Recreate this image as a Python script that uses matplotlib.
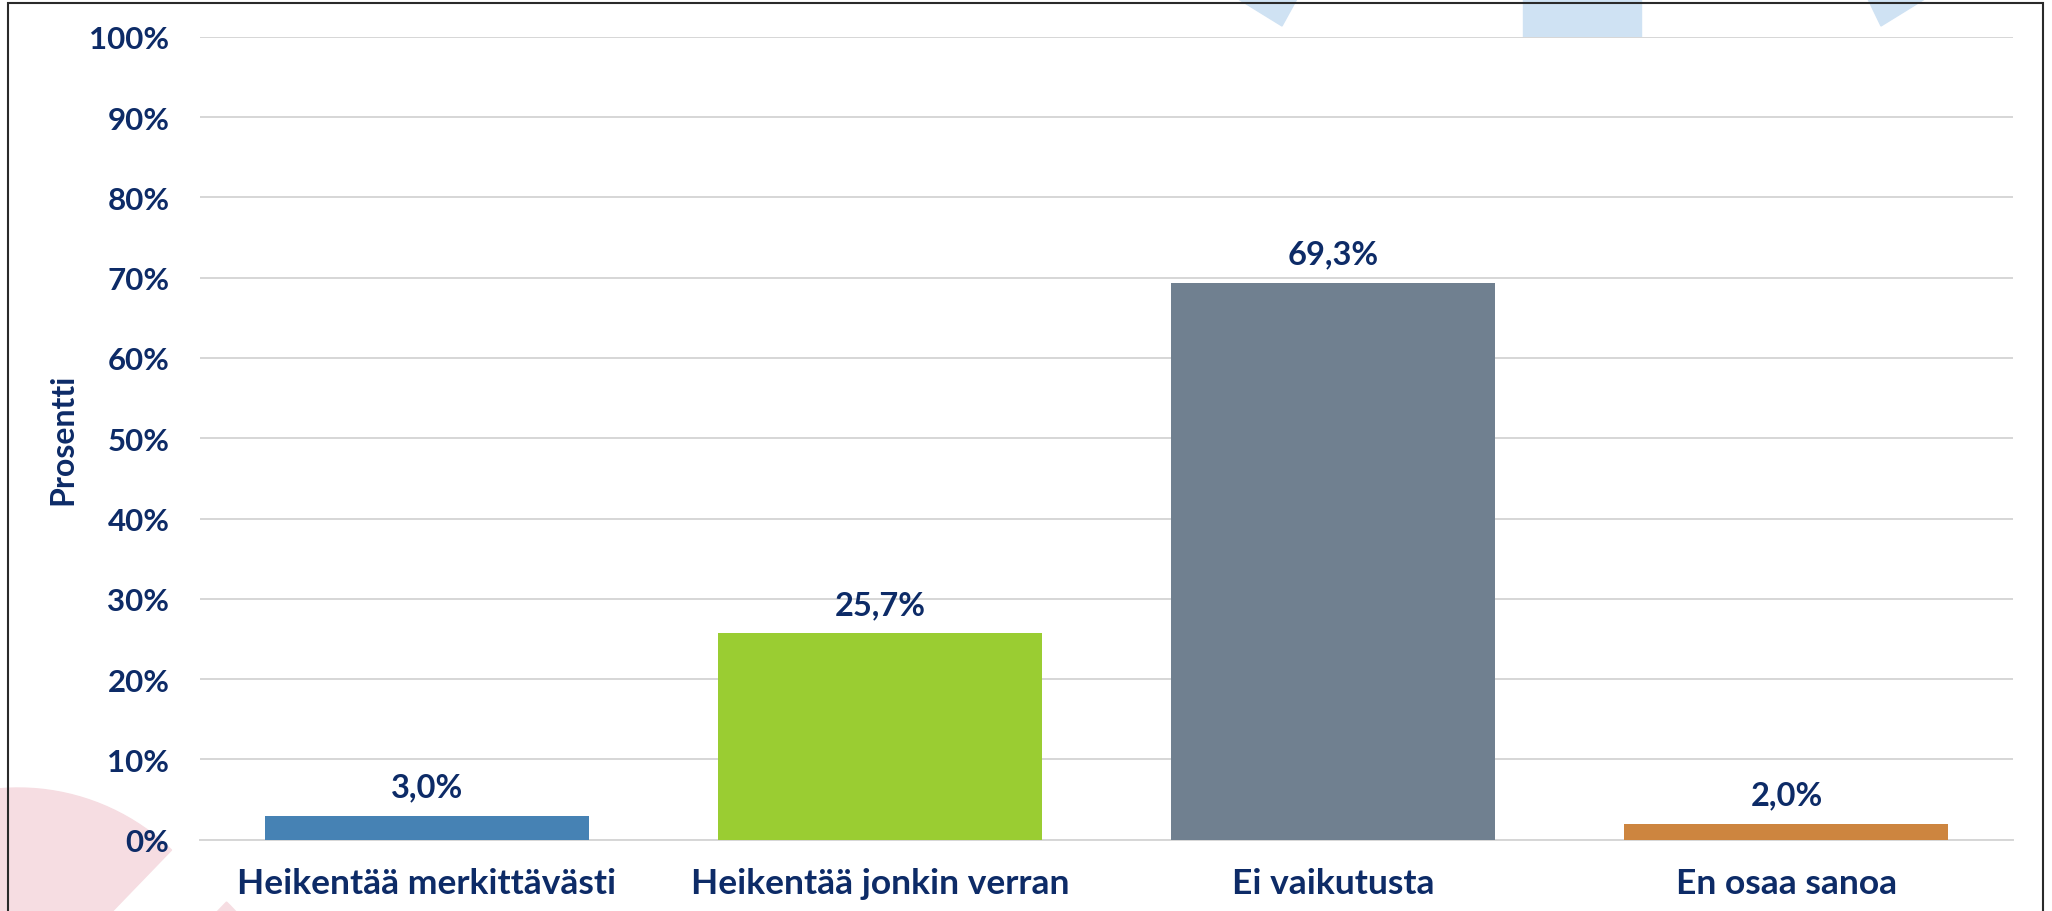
import matplotlib
matplotlib.use("Agg")
import matplotlib.pyplot as plt
from matplotlib.patches import Wedge, Polygon, Rectangle
from matplotlib.transforms import IdentityTransform

# ---- data ----
categories = ["Heikentää merkittävästi", "Heikentää jonkin verran", "Ei vaikutusta", "En osaa sanoa"]
values = [3.0, 25.7, 69.3, 2.0]
value_labels = ["3,0%", "25,7%", "69,3%", "2,0%"]
bar_colors = ["#4682B4", "#9ACD32", "#708090", "#CD853F"]
yticks = [0, 10, 20, 30, 40, 50, 60, 70, 80, 90, 100]
ytick_labels = ["0%", "10%", "20%", "30%", "40%", "50%", "60%", "70%", "80%", "90%", "100%"]
ylabel = "Prosentti"

W, H = 2052, 912
NAVY = "#0D2B67"
FONT = ["Lato", "DejaVu Sans"]

fig = plt.figure(figsize=(W / 100, H / 100), dpi=100)
fig.patch.set_facecolor("white")

# ---- background decorations (pixel coordinates, origin bottom-left) ----
ident = IdentityTransform()
pink = "#F6DDE2"
blue = "#CFE2F3"
fig.patches.append(Wedge((18, H - 1010), 221, 46, 200, transform=ident, color=pink, zorder=-2))
fig.patches.append(Wedge((73, H - 1062), 221, -30, 46, transform=ident, color=pink, zorder=-2))
fig.patches.append(Polygon([(1235, H + 2), (1298, H + 2), (1282, H - 27)], closed=True,
                           transform=ident, color=blue, zorder=-2))
fig.patches.append(Polygon([(1867, H + 2), (1928, H + 2), (1881, H - 27)], closed=True,
                           transform=ident, color=blue, zorder=-2))
fig.patches.append(Rectangle((1523, H - 40), 118, 44, transform=ident, color=blue, zorder=-2))
fig.patches.append(Rectangle((8, -20), 2035, H - 4 + 20, transform=ident, fill=False,
                             edgecolor="#2A2A2A", linewidth=1.5, zorder=10))

# ---- axes ----
ax_left, ax_right = 200 / W, 2013 / W
ax_bottom, ax_top = (H - 840.7) / H, (H - 37.7) / H
ax = fig.add_axes([ax_left, ax_bottom, ax_right - ax_left, ax_top - ax_bottom])
ax.set_facecolor("white")

x = list(range(len(categories)))
bars = ax.bar(x, values, width=0.715, color=bar_colors, zorder=3)

for xi, v, lab in zip(x, values, value_labels):
    ax.annotate(lab, (xi, v), xytext=(0, 14), textcoords="offset points",
                ha="center", va="baseline", fontsize=23.5, fontweight="bold",
                color=NAVY, family=FONT)

ax.set_xlim(-0.5, len(categories) - 0.5)
ax.set_ylim(0, 100)
ax.set_yticks(yticks)
ax.set_yticklabels(ytick_labels)
ax.set_xticks(x)
ax.set_xticklabels(categories)

for lab in ax.get_yticklabels():
    lab.set_fontsize(22.5)
    lab.set_fontweight("bold")
    lab.set_color(NAVY)
    lab.set_family(FONT)
for lab in ax.get_xticklabels():
    lab.set_fontsize(25.5)
    lab.set_fontweight("bold")
    lab.set_color(NAVY)
    lab.set_family(FONT)

ax.tick_params(axis="y", length=0, pad=22)
ax.tick_params(axis="x", length=0, pad=19.5)

ax.grid(axis="y", color="#D6D6D6", linewidth=1.4, zorder=0)
ax.set_axisbelow(True)
for s in ["top", "right", "left"]:
    ax.spines[s].set_visible(False)
ax.spines["bottom"].set_color("#D6D6D6")
ax.spines["bottom"].set_linewidth(1.4)

ax.set_ylabel(ylabel, fontsize=23, fontweight="bold", color=NAVY, family=FONT, labelpad=0)
ax.yaxis.set_label_coords((77 - 200) / (2013 - 200), 0.5)

fig.savefig("out.png", dpi=100, facecolor="white")
